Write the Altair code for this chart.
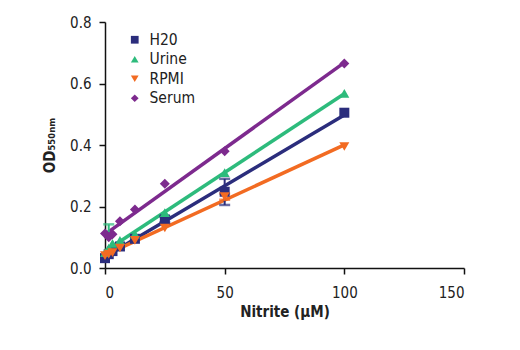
import altair as alt
import pandas as pd

conc = [0, 1.56, 3.13, 6.25, 12.5, 25, 50, 100]
h20 = [0.032, 0.045, 0.055, 0.07, 0.095, 0.158, 0.248, 0.505]
urine = [0.05, 0.065, 0.08, 0.09, 0.11, 0.18, 0.31, 0.568]
rpmi = [0.04, 0.045, 0.05, 0.065, 0.09, 0.13, 0.232, 0.395]
serum = [0.112, 0.10, 0.11, 0.152, 0.19, 0.274, 0.38, 0.665]

series_names = ["H20", "Urine", "RPMI", "Serum"]
series_colors = ["#2b2d7c", "#2dbb7c", "#f26b22", "#7d2a8e"]
series_shapes = ["square", "triangle-up", "triangle-down", "diamond"]

err_series = ["H20", "Urine", "H20", "RPMI"]
err_conc = [50, 1.56, 25, 50]
err_lo = [0.205, 0.11, 0.148, 0.222]
err_hi = [0.29, 0.142, 0.168, 0.242]

rows = []
for name, vals in zip(series_names, [h20, urine, rpmi, serum]):
    for c, v in zip(conc, vals):
        rows.append({"series": name, "conc": c, "od": v})
df = pd.DataFrame(rows)
edf = pd.DataFrame({"grp": err_series, "conc": err_conc, "lo": err_lo, "hi": err_hi})

FONT = "DejaVu Sans Condensed, Liberation Sans Narrow, Liberation Sans, Arial"

xsc = alt.Scale(domain=[0, 150], nice=False)
ysc = alt.Scale(domain=[0, 0.8], nice=False)
csc = alt.Scale(domain=series_names, range=series_colors)
ssc = alt.Scale(domain=series_names, range=series_shapes)

xax = alt.X("conc:Q", scale=xsc, axis=alt.Axis(values=[0, 50, 100, 150], title="Nitrite (µM)", grid=False))
yax = alt.Y("od:Q", scale=ysc, axis=alt.Axis(values=[0, 0.2, 0.4, 0.6, 0.8], format=".1f", title="OD₅₅₀ₙₘ", grid=False))

lines = alt.Chart(df).transform_regression(
    "conc", "od", groupby=["series"], extent=[0, 100]
).transform_calculate(grp="datum.series").mark_line(strokeWidth=3.5).encode(
    x=alt.X("conc:Q", scale=xsc),
    y=alt.Y("od:Q", scale=ysc),
    stroke=alt.Stroke("grp:N", scale=csc, legend=None),
    detail="grp:N",
)

err_rule = alt.Chart(edf).mark_rule(strokeWidth=2).encode(
    x=alt.X("conc:Q", scale=xsc),
    y=alt.Y("lo:Q", scale=ysc),
    y2="hi:Q",
    stroke=alt.Stroke("grp:N", scale=csc, legend=None),
)
err_lo_t = alt.Chart(edf).mark_tick(thickness=2.5, size=11, orient="horizontal").encode(
    x=alt.X("conc:Q", scale=xsc),
    y=alt.Y("lo:Q", scale=ysc),
    fill=alt.Fill("grp:N", scale=csc, legend=None),
)
err_hi_t = alt.Chart(edf).mark_tick(thickness=2.5, size=11, orient="horizontal").encode(
    x=alt.X("conc:Q", scale=xsc),
    y=alt.Y("hi:Q", scale=ysc),
    fill=alt.Fill("grp:N", scale=csc, legend=None),
)

leg = alt.Legend(title=None, orient="none", legendX=22, legendY=10,
                 labelFontSize=15.5, labelFont=FONT, symbolSize=60, labelOffset=7,
                 rowPadding=2.5, labelColor="#222", padding=0)

points = alt.Chart(df).mark_point(filled=True, size=100, opacity=1).encode(
    x=xax,
    y=yax,
    color=alt.Color("series:N", scale=csc, sort=series_names, legend=leg),
    shape=alt.Shape("series:N", scale=ssc, sort=series_names, legend=leg),
)

chart = alt.layer(lines, err_rule, err_lo_t, err_hi_t, points).resolve_scale(
    stroke="independent", fill="independent"
).properties(
    width=359, height=246,
    autosize=alt.AutoSizeParams(type="none"),
    padding={"left": 105, "top": 22, "right": 56, "bottom": 82},
    background="white",
).configure_view(stroke=None).configure_axis(
    domainColor="#111", tickColor="#111", domainWidth=1.5, tickWidth=1.5, tickSize=6,
    labelFont=FONT, labelFontSize=15, labelColor="#222",
    titleFont=FONT, titleFontSize=15, titleFontWeight="bold", titleColor="#222",
).configure_axisX(labelPadding=11, titlePadding=4).configure_axisY(labelPadding=8, titlePadding=12)

chart.save("out.html", embed_options={"renderer": "svg", "actions": False})
